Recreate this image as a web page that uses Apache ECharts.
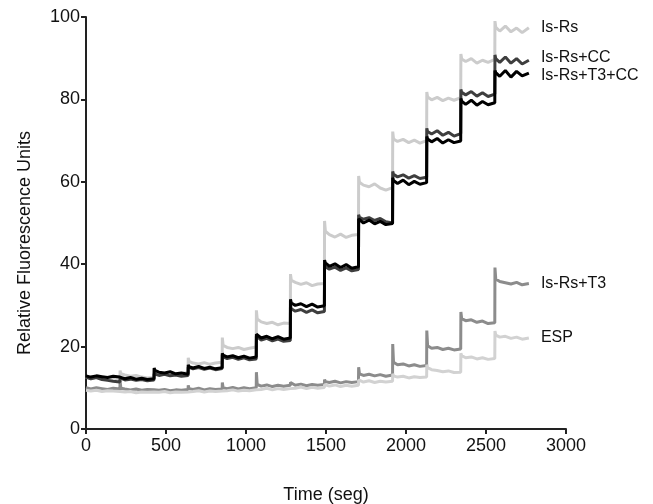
<!DOCTYPE html>
<html><head><meta charset="utf-8">
<script src="https://cdn.jsdelivr.net/npm/echarts@6/dist/echarts.min.js"></script>
<style>html,body{margin:0;padding:0;background:#fff}#c{width:653px;height:504px}</style>
</head><body><div id="c"></div>
<script>
const times = [
0,5,30,65,100,135,170,212,
213,218,243,278,313,348,383,425,
426,431,456,491,526,561,596,638,
639,644,669,704,739,774,809,851,
852,857,882,917,952,987,1022,1064,
1065,1070,1095,1130,1165,1200,1235,1277,
1278,1283,1308,1343,1378,1413,1448,1490,
1491,1496,1521,1556,1591,1626,1661,1703,
1704,1709,1734,1769,1804,1839,1874,1916,
1917,1922,1947,1982,2017,2052,2087,2129,
2130,2135,2160,2195,2230,2265,2300,2342,
2343,2348,2373,2408,2443,2478,2513,2555,
2556,2561,2586,2621,2656,2691,2726,2768];

const isRs = [
12.6,12.5,12.2,12.6,12.3,12.1,12.4,12.0,
14.2,13.4,13.1,12.8,13.0,12.6,12.4,12.5,
14.6,13.8,13.5,13.3,13.6,13.2,13.5,13.7,
17.3,16.4,16.0,15.8,16.1,15.7,16.0,16.2,
22.2,20.3,19.8,19.5,19.8,19.3,19.6,19.9,
28.8,26.7,26.0,25.6,25.9,25.3,25.7,25.6,
37.6,36.1,35.6,35.1,35.5,34.8,35.2,35.3,
50.5,48.0,47.2,46.6,47.3,46.5,47.0,47.2,
61.4,59.9,59.2,58.8,59.5,58.5,58.0,58.6,
72.2,70.4,69.8,70.3,69.5,70.1,69.4,70.0,
81.8,80.6,79.9,80.5,79.7,80.3,79.8,80.4,
91.0,89.8,89.2,89.9,88.8,89.5,89.0,89.7,
99.0,97.5,96.6,97.8,96.4,97.3,96.2,97.4];

const isRsCC = [
12.6,12.4,12.2,12.5,12.0,11.8,11.6,11.4,
12.4,12.2,11.9,12.1,11.8,12.0,11.7,11.9,
13.4,13.2,13.0,13.3,12.9,13.1,12.8,13.0,
15.0,14.8,14.6,14.9,14.5,14.8,14.4,14.7,
18.0,17.5,17.1,17.4,16.9,17.3,16.8,17.0,
22.6,22.2,21.6,22.0,21.4,21.8,21.3,21.5,
30.0,29.2,28.6,29.0,28.3,28.9,28.2,28.5,
40.0,39.4,38.8,39.3,38.5,39.1,38.4,38.7,
52.0,51.4,50.9,51.3,50.6,51.1,50.3,50.0,
62.5,61.8,61.2,61.7,60.9,61.5,60.8,61.1,
73.0,72.2,71.6,72.4,71.3,72.0,71.1,71.7,
82.4,81.7,81.1,81.9,80.8,81.6,80.7,81.3,
90.8,89.9,89.0,90.3,88.8,89.9,88.6,89.5];

const isRsT3CC = [
12.9,12.8,12.6,12.9,12.7,12.5,12.8,12.6,
12.6,12.4,12.2,12.5,12.1,12.3,12.0,12.2,
14.8,14.2,13.8,13.6,13.9,13.4,13.6,13.3,
15.6,15.1,14.8,15.2,14.7,15.0,14.6,14.9,
18.4,17.9,17.5,17.8,17.3,17.7,17.2,17.5,
23.0,22.6,22.1,22.5,21.9,22.4,21.8,22.1,
31.5,30.6,30.0,30.4,29.7,30.3,29.6,29.9,
41.0,40.3,39.5,40.1,39.2,39.9,39.0,39.4,
51.0,50.6,50.0,50.7,49.8,50.4,49.6,49.9,
61.0,60.3,59.6,60.4,59.3,60.1,59.4,59.8,
71.0,70.4,69.7,70.5,69.4,70.2,69.5,69.9,
80.2,79.6,78.8,79.8,78.6,79.5,78.7,79.2,
87.0,86.5,85.6,87.0,85.4,86.8,85.7,86.4];

const isRsT3 = [
10.0,9.9,9.7,10.0,9.8,9.6,9.9,9.7,
11.6,9.9,9.7,9.5,9.7,9.4,9.6,9.5,
9.8,9.6,9.4,9.6,9.3,9.5,9.4,9.6,
10.6,9.8,9.6,9.9,9.5,9.8,9.6,9.7,
11.3,10.0,9.8,10.1,9.7,10.0,9.8,10.0,
13.8,10.8,10.4,10.7,10.3,10.6,10.4,10.6,
11.3,10.9,10.6,10.9,10.5,10.8,10.6,10.8,
12.0,11.5,11.3,11.6,11.2,11.5,11.3,11.5,
15.0,13.4,13.0,13.3,12.9,13.2,12.8,13.1,
20.6,16.2,15.6,15.8,15.3,15.6,15.2,15.4,
23.9,20.2,19.6,19.8,19.3,19.6,19.2,19.4,
28.4,26.8,26.3,26.5,25.9,26.2,25.6,25.8,
39.2,36.4,35.8,35.5,35.2,35.6,35.0,35.3];

const esp = [
9.4,9.3,9.2,9.4,9.1,9.3,9.2,9.1,
9.3,9.2,9.0,9.1,8.8,9.0,8.9,9.0,
9.1,9.0,8.9,9.1,8.8,9.0,8.9,9.0,
9.3,9.2,9.1,9.3,9.0,9.2,9.1,9.2,
9.6,9.4,9.3,9.5,9.2,9.4,9.3,9.5,
9.9,9.8,9.6,9.9,9.5,9.8,9.6,9.8,
10.2,10.0,9.9,10.2,9.8,10.1,9.9,10.1,
10.8,10.6,10.4,10.7,10.3,10.6,10.4,10.6,
11.9,11.6,11.4,11.7,11.3,11.6,11.4,11.6,
13.4,12.9,12.6,12.8,12.4,12.7,12.5,12.6,
15.6,14.9,14.4,14.2,13.9,14.1,13.7,13.8,
18.4,17.8,17.3,17.5,17.0,17.3,16.9,17.1,
23.8,22.8,22.3,22.5,22.0,22.3,21.8,22.1];

const seriesNames = ['Is-Rs','Is-Rs+T3','ESP','Is-Rs+CC','Is-Rs+T3+CC'];
const seriesColors = ['#cccccc','#8c8c8c','#d2d2d2','#3e3e3e','#000000'];
const labelOffsets = [0,0,0,-3,3];
const xTicks = [0,500,1000,1500,2000,2500,3000];
const yTicks = [0,20,40,60,80,100];
const seriesValues = [isRs,isRsT3,esp,isRsCC,isRsT3CC];

const font = 'Liberation Sans, Arial, sans-serif';
const chart = echarts.init(document.getElementById('c'));
chart.setOption({
  animation:false,
  backgroundColor:'#fff',
  grid:{left:86,right:87,top:17,bottom:75,containLabel:false,outerBoundsMode:'none'},
  xAxis:{type:'value',min:xTicks[0],max:xTicks[xTicks.length-1],interval:500,
    name:'Time (seg)',nameLocation:'middle',nameGap:57,
    nameTextStyle:{fontFamily:font,fontSize:18,color:'#111'},
    axisLine:{lineStyle:{color:'#222',width:2}},
    axisTick:{show:true,length:5,lineStyle:{color:'#222',width:2}},
    axisLabel:{fontFamily:font,fontSize:18,color:'#111',margin:8,formatter:v=>String(v)},
    splitLine:{show:false}},
  yAxis:{type:'value',min:yTicks[0],max:yTicks[yTicks.length-1],interval:20,
    name:'Relative Fluorescence Units',nameLocation:'middle',nameGap:52,
    nameTextStyle:{fontFamily:font,fontSize:18,color:'#111',padding:[0,40,0,0]},
    axisLine:{show:true,lineStyle:{color:'#222',width:2}},
    axisTick:{show:true,length:5,lineStyle:{color:'#222',width:2}},
    axisLabel:{fontFamily:font,fontSize:18,color:'#111',margin:6},
    splitLine:{show:false}},
  series: seriesNames.map((n,k)=>({
    name:n,type:'line',showSymbol:false,symbol:'none',
    data: times.map((t,i)=>[t, seriesValues[k][i]]),
    lineStyle:{color:seriesColors[k],width:3},
    itemStyle:{color:seriesColors[k]},
    endLabel:{show:true,formatter:n,distance:12,offset:[0,labelOffsets[k]],
      fontFamily:font,fontSize:16,color:'#111'},
    z: 2+k
  }))
});
</script></body></html>
